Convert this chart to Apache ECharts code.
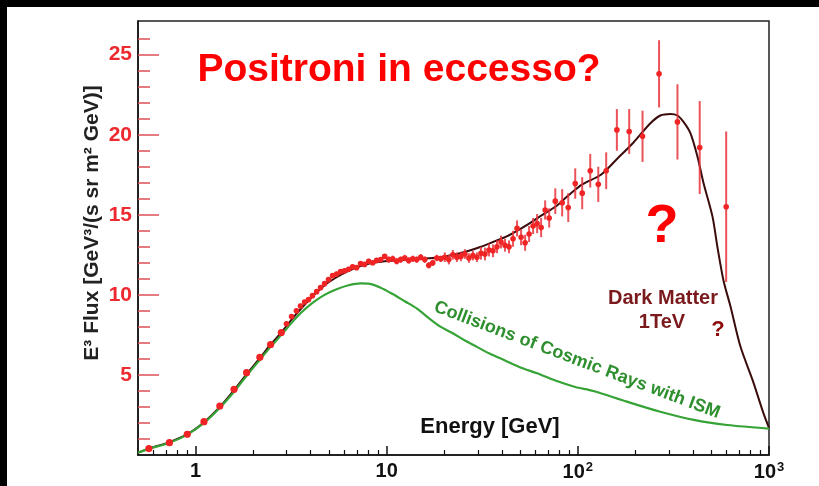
<!DOCTYPE html>
<html>
<head>
<meta charset="utf-8">
<script src="https://cdn.jsdelivr.net/npm/echarts@6/dist/echarts.min.js"></script>
<style>
  html, body { margin: 0; padding: 0; background: #000; }
  #chart { position: absolute; left: 7px; top: 7px; width: 812px; height: 479px; }
</style>
</head>
<body>
<div id="chart"></div>
<script>
// energia dei punti (GeV)
const posE = [0.57, 0.73, 0.905, 1.107, 1.34, 1.59, 1.85, 2.17, 2.47, 2.81,
  2.99, 3.18, 3.37,
  3.54, 3.72, 3.90, 4.09, 4.30, 4.51, 4.73, 4.96, 5.21, 5.47,
  5.74, 6.02, 6.32, 6.63, 6.96, 7.30, 7.66, 8.05, 8.45, 8.86,
  9.30, 9.76, 10.24, 10.75, 11.28, 11.84, 12.43, 13.04, 13.69, 14.36,
  15.07, 15.82, 16.60, 17.42, 18.29, 19.19, 20.14, 21.14, 22.19, 23.29,
  24.44, 25.65, 26.92, 28.25, 29.65, 31.12, 32.66, 34.28, 35.97, 37.76,
  39.63, 41.59, 43.65, 45.81, 48.08, 50.47, 52.97, 55.59, 58.34, 61.23,
  64.26, 67.45, 70.79,
  76.2, 82.8, 89.1, 96.9, 105.4, 116.1, 127.9, 140.7, 160, 185.6, 218, 266, 332, 434, 597]
// flusso E^3
const posFlux = [0.4, 0.77, 1.29, 2.08, 3.06, 4.1, 5.14, 6.1, 6.9, 7.65,
  8.2, 8.65, 9.0,
  9.3, 9.55, 9.7, 9.95, 10.2, 10.45, 10.7, 10.95, 11.2, 11.3,
  11.45, 11.5, 11.6, 11.75, 11.7, 11.95, 11.9, 12.1, 12.0, 12.15,
  12.2, 12.4, 12.2, 12.25, 12.1, 12.2, 12.3, 12.15, 12.25, 12.2,
  12.35, 12.2, 11.85, 12.0, 12.3, 12.25, 12.35, 12.2, 12.5, 12.35,
  12.4, 12.55, 12.3, 12.45, 12.35, 12.6, 12.55, 12.8, 12.75, 13.0,
  13.3, 13.1, 13.0, 13.5, 14.15, 13.6, 13.25, 13.8, 14.3, 14.45,
  14.2, 15.3, 14.8,
  15.85, 15.75, 15.45, 16.95, 16.35, 17.75, 16.9, 17.75, 20.3, 20.2, 19.9, 23.8, 20.8, 19.2, 15.5]
// errori
const posErr = [0.12, 0.12, 0.12, 0.12, 0.12, 0.12, 0.12, 0.12, 0.12, 0.12,
  0.15, 0.15, 0.15,
  0.15, 0.15, 0.15, 0.15, 0.15, 0.15, 0.15, 0.15, 0.15, 0.15,
  0.15, 0.15, 0.15, 0.15, 0.15, 0.15, 0.15, 0.15, 0.15, 0.15,
  0.15, 0.15, 0.2, 0.2, 0.2, 0.2, 0.2, 0.2, 0.2, 0.2,
  0.2, 0.2, 0.2, 0.2, 0.2, 0.2, 0.3, 0.3, 0.3, 0.3,
  0.3, 0.3, 0.3, 0.3, 0.3, 0.4, 0.4, 0.4, 0.4, 0.4,
  0.4, 0.4, 0.4, 0.5, 0.5, 0.5, 0.5, 0.5, 0.5, 0.6,
  0.6, 0.6, 0.6,
  0.8, 0.85, 0.9, 0.95, 1.0, 1.05, 1.1, 1.15, 1.3, 1.4, 1.6, 2.1, 2.35, 2.9, 4.7]

// curva Dark Matter 1TeV
const dmE = [0.5, 0.57, 0.73, 0.905, 1.107, 1.34, 1.59, 1.85, 2.17, 2.47, 2.81, 3.18, 3.54, 4.09, 4.73,
  5.47, 6.32, 7.3, 8.45, 9.76, 11.28, 13.04, 15.07, 17.42, 20.14, 23.29, 26.92, 31.12, 35.97,
  41.59, 48.08, 55.59, 64.26, 76.2, 89.1, 105.4, 132, 160.7, 195, 239, 270, 305, 332, 357, 388,
  422, 454, 506, 537, 578, 629, 709, 820, 936, 1000]
const dmFlux = [0.15, 0.4, 0.8, 1.3, 2.05, 3.0, 4.05, 5.05, 6.05, 6.9, 7.65, 8.45, 9.1, 9.9, 10.6,
  11.1, 11.5, 11.8, 12.0, 12.1, 12.15, 12.2, 12.25, 12.3, 12.4, 12.55, 12.75, 13.0, 13.3,
  13.6, 14.0, 14.45, 14.95, 15.5, 16.2, 16.9, 17.5, 18.5, 19.5, 20.7, 21.2, 21.3, 21.2, 20.8, 20.1,
  18.65, 17.0, 14.9, 13.0, 10.9, 9.27, 6.77, 4.69, 2.6, 1.7]

// curva collisioni raggi cosmici con ISM
const ismE = [0.5, 0.57, 0.73, 0.905, 1.107, 1.34, 1.59, 1.85, 2.17, 2.47, 2.81, 3.18, 3.54, 4.09, 4.73,
  5.47, 6.32, 7.3, 8.05, 9.3, 10.75, 12.43, 14.36, 16.6, 19.19, 22.19, 25.65, 29.65, 34.3,
  41.6, 50.5, 61.2, 76.2, 96.9, 120.5, 180.7, 270, 404, 604, 1000]
const ismFlux = [0.15, 0.38, 0.77, 1.27, 2.0, 2.95, 3.95, 4.95, 5.95, 6.75, 7.5, 8.25, 8.85, 9.5, 10.0,
  10.35, 10.6, 10.72, 10.7, 10.45, 10.05, 9.6, 9.15, 8.55, 8.0, 7.6, 7.15, 6.75, 6.35,
  5.9, 5.45, 5.1, 4.65, 4.25, 4.0, 3.33, 2.7, 2.19, 1.875, 1.65]

// tacche asse x
const xMajor = [1, 10, 100, 1000]
const xMinor = [0.6, 0.7, 0.8, 0.9, 2, 3, 4, 5, 6, 7, 8, 9, 20, 30, 40, 50, 60, 70, 80, 90,
  200, 300, 400, 500, 600, 700, 800, 900]
const xLabels = ['1', '10', '10{s|2}', '10{s|3}']
// tacche asse y
const yMajor = [5, 10, 15, 20, 25]
const yMinor = [1, 2, 3, 4, 6, 7, 8, 9, 11, 12, 13, 14, 16, 17, 18, 19, 21, 22, 23, 24, 26]

const FONT = '"Liberation Sans", Arial, sans-serif'
const lg = (v) => Math.log10(v)

const chart = echarts.init(document.getElementById('chart'))

const xBase = {
  type: 'value',
  min: lg(0.5),
  max: 3,
  position: 'bottom',
  splitLine: { show: false }
}
const yBase = {
  type: 'value',
  min: 0,
  max: 27.1,
  position: 'left',
  splitLine: { show: false }
}

const option = {
  backgroundColor: '#fff',
  animation: false,
  grid: {
    left: 131, right: 50, top: 14, bottom: 31,
    show: true,
    borderColor: '#222',
    borderWidth: 1.5,
    backgroundColor: 'transparent'
  },
  xAxis: [
    {
      ...xBase,
      axisLine: { show: true, onZero: false, lineStyle: { color: '#111', width: 1.5 } },
      axisTick: { show: true, inside: true, length: 9, customValues: xMajor.map(lg), lineStyle: { color: '#111', width: 1.5 } },
      axisLabel: {
        customValues: xMajor.map(lg),
        margin: 6,
        color: '#111',
        fontFamily: FONT,
        fontWeight: 'bold',
        fontSize: 20,
        formatter: (v) => xLabels[Math.round(v)],
        rich: {
          s: { fontSize: 13, fontWeight: 'bold', fontFamily: FONT, color: '#111', verticalAlign: 'top', padding: [0, 0, 9, 1] }
        }
      }
    },
    {
      ...xBase,
      axisLine: { show: false, onZero: false },
      axisTick: { show: true, inside: true, length: 5, customValues: xMinor.map(lg), lineStyle: { color: '#111', width: 1.2 } },
      axisLabel: { show: false }
    }
  ],
  yAxis: [
    {
      ...yBase,
      axisLine: { show: true, onZero: false, lineStyle: { color: '#111', width: 1.5 } },
      axisTick: { show: true, inside: true, length: 21, customValues: yMajor, lineStyle: { color: '#e0505a', width: 1.5 } },
      axisLabel: {
        customValues: yMajor,
        margin: 6,
        color: '#ec2a30',
        fontFamily: FONT,
        fontWeight: 'bold',
        fontSize: 21
      }
    },
    {
      ...yBase,
      axisLine: { show: false, onZero: false },
      axisTick: { show: true, inside: true, length: 12, customValues: yMinor, lineStyle: { color: '#e0505a', width: 1.5 } },
      axisLabel: { show: false }
    }
  ],
  series: [
    {
      // curva ISM
      type: 'line',
      data: ismE.map((e, i) => [lg(e), ismFlux[i]]),
      smooth: 0.3,
      showSymbol: false,
      lineStyle: { color: '#36a336', width: 2.2 },
      z: 3
    },
    {
      // curva Dark Matter
      type: 'line',
      data: dmE.map((e, i) => [lg(e), dmFlux[i]]),
      smooth: 0.3,
      showSymbol: false,
      lineStyle: { color: '#3a0c0c', width: 2 },
      z: 2
    },
    {
      // punti con barre d'errore
      type: 'custom',
      data: posE.map((e, i) => [lg(e), posFlux[i], posErr[i], e]),
      renderItem: (params, api) => {
        const x = api.value(0)
        const y = api.value(1)
        const err = api.value(2)
        const top = api.coord([x, y + err])
        const bot = api.coord([x, y - err])
        const c = api.coord([x, y])
        const r = api.value(3) < 2.9 ? 3.6 : 2.8
        return {
          type: 'group',
          children: [
            { type: 'line', shape: { x1: top[0], y1: top[1], x2: bot[0], y2: bot[1] }, style: { stroke: '#e8343c', lineWidth: 2, opacity: 0.85 } },
            { type: 'circle', shape: { cx: c[0], cy: c[1], r: r }, style: { fill: '#f02424' } }
          ]
        }
      },
      z: 4
    }
  ],
  graphic: [
    {
      type: 'text', x: 392, y: 63,
      style: { text: 'Positroni in eccesso?', font: 'bold 39px ' + FONT, fill: '#ff0000', textAlign: 'center', textVerticalAlign: 'middle' }
    },
    {
      type: 'text', x: 655, y: 220,
      style: { text: '?', font: 'bold 54px ' + FONT, fill: '#ff0000', textAlign: 'center', textVerticalAlign: 'middle' }
    },
    {
      type: 'text', x: 656, y: 291,
      style: { text: 'Dark Matter', font: 'bold 20px ' + FONT, fill: '#7a1a1c', textAlign: 'center', textVerticalAlign: 'middle' }
    },
    {
      type: 'text', x: 655, y: 315,
      style: { text: '1TeV', font: 'bold 20px ' + FONT, fill: '#7a1a1c', textAlign: 'center', textVerticalAlign: 'middle' }
    },
    {
      type: 'text', x: 711, y: 323,
      style: { text: '?', font: 'bold 22px ' + FONT, fill: '#8b0a0a', textAlign: 'center', textVerticalAlign: 'middle' }
    },
    {
      type: 'text', x: 483, y: 420,
      style: { text: 'Energy [GeV]', font: 'bold 22px ' + FONT, fill: '#111', textAlign: 'center', textVerticalAlign: 'middle' }
    },
    {
      type: 'text', x: 570, y: 353, rotation: -0.36,
      style: { text: 'Collisions of Cosmic Rays with ISM', font: 'bold 18px ' + FONT, fill: '#2e8f2e', textAlign: 'center', textVerticalAlign: 'middle' }
    },
    {
      type: 'text', x: 85, y: 216, rotation: Math.PI / 2,
      style: { text: 'E³ Flux [GeV³/(s sr m² GeV)]', font: 'bold 21px ' + FONT, fill: '#222', textAlign: 'center', textVerticalAlign: 'middle' }
    }
  ]
}

chart.setOption(option)
</script>
</body>
</html>
